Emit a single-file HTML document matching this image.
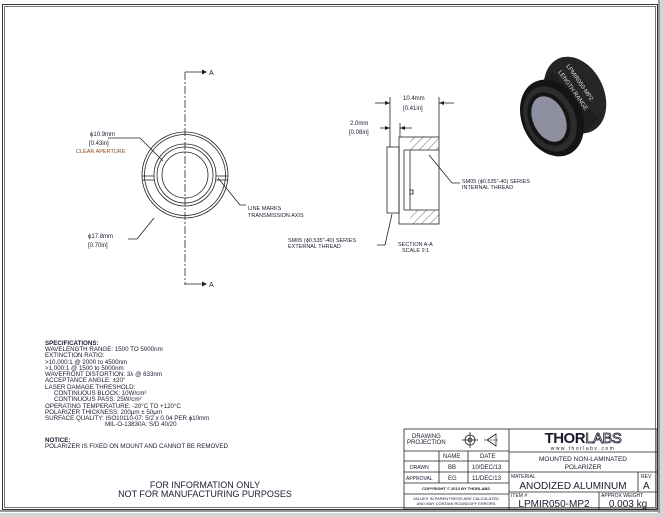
<!DOCTYPE html>
<html><head><meta charset="utf-8"><style>
html,body{margin:0;padding:0;background:#fff;}
svg{display:block;}
text{font-family:"Liberation Sans",sans-serif;fill:#1a1a2e;}
</style></head><body>
<svg width="664" height="517" viewBox="0 0 664 517" xmlns="http://www.w3.org/2000/svg">
<rect x="0" y="0" width="664" height="517" fill="#d4d4d4"/>
<rect x="0" y="0" width="660" height="513" fill="#fff"/>
<rect x="2.5" y="4.5" width="655" height="505" fill="none" stroke="#333" stroke-width="1"/>
<rect x="4.5" y="6.5" width="651" height="501" fill="none" stroke="#555" stroke-width="0.8"/>
<line x1="0" y1="511" x2="660" y2="511" stroke="#999" stroke-width="2"/>
<line x1="659" y1="0" x2="659" y2="513" stroke="#999" stroke-width="2"/>

<!-- front view -->
<g stroke="#222" fill="none" stroke-width="0.8">
<line x1="185" y1="72" x2="185" y2="285" stroke-dasharray="8,2,2,2"/>
<polyline points="185,72 203,72"/>
<polyline points="185,284 203,284"/>
<circle cx="185" cy="175" r="43"/>
<circle cx="185" cy="175" r="40.5"/>
<circle cx="185" cy="175" r="31"/>
<circle cx="185" cy="175" r="28"/>
<circle cx="185" cy="175" r="23"/>
<line x1="142" y1="176" x2="154" y2="176"/><line x1="142" y1="180" x2="154" y2="180"/>
<line x1="216" y1="176" x2="228" y2="176"/><line x1="216" y1="180" x2="228" y2="180"/>
<polyline points="108,138 140,138 163,161"/>
<polyline points="218,178 240,205 246,205"/>
<polyline points="128,239 137,239 154,218"/>
</g>
<polygon points="202,69.5 202,74.5 207,72" fill="#222"/>
<polygon points="202,281.5 202,286.5 207,284" fill="#222"/>
<text x="209" y="75" font-size="7">A</text>
<text x="209" y="287" font-size="7">A</text>
<text x="90" y="136" font-size="6">ϕ10.9mm</text>
<text x="89" y="145" font-size="6">[0.43in]</text>
<text x="76" y="153" font-size="5.5" style="fill:#8a4a1a">CLEAR APERTURE</text>
<text x="248" y="210" font-size="5.5">LINE MARKS</text>
<text x="248" y="217" font-size="5.5">TRANSMISSION AXIS</text>
<text x="88" y="238" font-size="6">ϕ17.8mm</text>
<text x="88" y="247" font-size="6">[0.70in]</text>

<!-- section view -->
<defs><pattern id="h" width="6" height="6" patternUnits="userSpaceOnUse" patternTransform="rotate(45)"><line x1="0" y1="0" x2="0" y2="6" stroke="#222" stroke-width="0.7"/></pattern></defs>
<rect x="410" y="137" width="29" height="13" fill="url(#h)"/>
<rect x="410" y="210" width="29" height="14" fill="url(#h)"/>
<g stroke="#222" fill="none" stroke-width="0.8">
<rect x="399" y="137" width="40" height="87"/>
<rect x="387" y="147" width="12" height="66"/>
<line x1="404" y1="150" x2="439" y2="150"/>
<line x1="404" y1="210" x2="439" y2="210"/>
<line x1="404" y1="150" x2="404" y2="210"/>
<line x1="410" y1="150" x2="410" y2="210"/>
<rect x="410" y="190" width="3" height="4"/>
<line x1="390" y1="97" x2="390" y2="147"/>
<line x1="439" y1="97" x2="439" y2="137"/>
<line x1="375" y1="103" x2="390" y2="103"/><line x1="439" y1="103" x2="454" y2="103"/>
<line x1="400" y1="123" x2="400" y2="137"/>
<line x1="380" y1="128" x2="390" y2="128"/><line x1="400" y1="128" x2="412" y2="128"/>
<polyline points="429,155 452,183 460,183"/>
<polyline points="377,245 385,245 392,214"/>
</g>
<polygon points="390,103 385,101 385,105" fill="#222"/>
<polygon points="439,103 444,101 444,105" fill="#222"/>
<polygon points="390,128 385,126 385,130" fill="#222"/>
<polygon points="400,128 405,126 405,130" fill="#222"/>
<text x="403" y="100" font-size="6">10.4mm</text>
<text x="403" y="110" font-size="6">[0.41in]</text>
<text x="350" y="125" font-size="6">2.0mm</text>
<text x="349" y="134" font-size="6">[0.08in]</text>
<text x="462" y="183" font-size="5.5">SM05 (ϕ0.535"-40) SERIES</text>
<text x="462" y="189" font-size="5.5">INTERNAL THREAD</text>
<text x="288" y="242" font-size="5.5">SM05 (ϕ0.535"-40) SERIES</text>
<text x="288" y="248" font-size="5.5">EXTERNAL THREAD</text>
<text x="398" y="246" font-size="5.5">SECTION A-A</text>
<text x="402" y="252" font-size="5.5">SCALE 2:1</text>

<!-- photo -->
<g>
<ellipse cx="575" cy="95" rx="29" ry="40" fill="#252525" transform="rotate(-25 575 95)"/>
<line x1="575" y1="95" x2="552" y2="118" stroke="#1e1e1e" stroke-width="66"/>
<ellipse cx="552" cy="118" rx="30" ry="40" fill="#141414" transform="rotate(-25 552 118)"/>
<ellipse cx="550" cy="119" rx="25" ry="34" fill="#2c2c2c" transform="rotate(-25 550 119)"/>
<ellipse cx="549" cy="119" rx="20" ry="28" fill="#151515" transform="rotate(-25 549 119)"/>
<ellipse cx="549" cy="119" rx="16" ry="24" fill="#8e90a2" transform="rotate(-25 549 119)"/>
<text x="566" y="66" font-size="6" style="fill:#ddd" transform="rotate(55 566 66)">LPMIR050-MP2</text>
<text x="558" y="72" font-size="6" style="fill:#ddd" transform="rotate(55 558 72)">LENGTH RANGE</text>
</g>

<!-- specs -->
<g font-size="6.2">
<text x="45" y="345" font-weight="bold">SPECIFICATIONS:</text>
<text x="45" y="351">WAVELENGTH RANGE: 1500 TO 5000nm</text>
<text x="45" y="357">EXTINCTION RATIO:</text>
<text x="45" y="364">&gt;10,000:1 @ 2000 to 4500nm</text>
<text x="45" y="370">&gt;1,000:1 @ 1500 to 5000nm</text>
<text x="45" y="376">WAVEFRONT DISTORTION: 3λ @ 633nm</text>
<text x="45" y="382">ACCEPTANCE ANGLE: ±20°</text>
<text x="45" y="389">LASER DAMAGE THRESHOLD:</text>
<text x="54" y="395">CONTINUOUS BLOCK: 10W/cm²</text>
<text x="54" y="401">CONTINUOUS PASS: 25W/cm²</text>
<text x="45" y="408">OPERATING TEMPERATURE: -20°C TO +120°C</text>
<text x="45" y="414">POLARIZER THICKNESS: 200μm ± 50μm</text>
<text x="45" y="420">SURFACE QUALITY: ISO10110-07: 5/2 x 0.04 PER ϕ10mm</text>
<text x="105" y="426">MIL-O-13830A: S/D 40/20</text>
<text x="45" y="442" font-weight="bold">NOTICE:</text>
<text x="45" y="448">POLARIZER IS FIXED ON MOUNT AND CANNOT BE REMOVED</text>
</g>
<text x="205" y="488" font-size="9" text-anchor="middle">FOR INFORMATION ONLY</text>
<text x="205" y="497" font-size="9" text-anchor="middle">NOT FOR MANUFACTURING PURPOSES</text>

<!-- title block -->
<g stroke="#222" fill="none" stroke-width="0.8">
<rect x="404" y="429" width="253" height="80"/>
<line x1="509" y1="429" x2="509" y2="509"/>
<line x1="404" y1="451" x2="509" y2="451"/>
<line x1="404" y1="461" x2="509" y2="461"/>
<line x1="404" y1="472" x2="509" y2="472"/>
<line x1="404" y1="483" x2="509" y2="483"/>
<line x1="404" y1="494" x2="509" y2="494"/>
<line x1="439" y1="451" x2="439" y2="483"/>
<line x1="468" y1="451" x2="468" y2="483"/>
<line x1="509" y1="452" x2="657" y2="452"/>
<line x1="509" y1="472" x2="657" y2="472"/>
<line x1="509" y1="492" x2="657" y2="492"/>
<line x1="638" y1="472" x2="638" y2="492"/>
<line x1="599" y1="492" x2="599" y2="509"/>
<circle cx="470" cy="440" r="5"/><circle cx="470" cy="440" r="2"/>
<line x1="462" y1="440" x2="478" y2="440"/><line x1="470" y1="432" x2="470" y2="448"/>
<polygon points="487,440 496,434 496,446"/>
<line x1="484" y1="440" x2="498" y2="440" stroke-dasharray="2,1"/>
</g>
<text x="412" y="438" font-size="6">DRAWING</text>
<text x="407" y="444" font-size="6">PROJECTION</text>
<text x="443" y="458" font-size="6">NAME</text>
<text x="480" y="458" font-size="6">DATE</text>
<text x="410" y="469" font-size="5">DRAWN</text>
<text x="448" y="469" font-size="6">BB</text>
<text x="472" y="469" font-size="6">10/DEC/13</text>
<text x="406" y="480" font-size="5">APPROVAL</text>
<text x="448" y="480" font-size="6">EG</text>
<text x="472" y="480" font-size="6">11/DEC/13</text>
<text x="456" y="490" font-size="4" text-anchor="middle" font-weight="bold">COPYRIGHT © 2013 BY THORLABS</text>
<text x="456" y="500" font-size="4" text-anchor="middle">VALUES IN PARENTHESIS ARE CALCULATED</text>
<text x="456" y="505" font-size="4" text-anchor="middle">AND MAY CONTAIN ROUNDOFF ERRORS</text>
<text x="583" y="443" font-size="15" text-anchor="middle" font-weight="bold" letter-spacing="-0.5">THOR<tspan font-weight="normal" style="fill:#fff;stroke:#1a1a2e;stroke-width:0.8">LABS</tspan></text>
<text x="583" y="450" font-size="5" text-anchor="middle" letter-spacing="1.5">www.thorlabs.com</text>
<text x="583" y="461" font-size="6.5" text-anchor="middle">MOUNTED NON-LAMINATED</text>
<text x="583" y="469" font-size="6.5" text-anchor="middle">POLARIZER</text>
<text x="511" y="478" font-size="5">MATERIAL</text>
<text x="573" y="489" font-size="10" text-anchor="middle">ANODIZED ALUMINUM</text>
<text x="641" y="478" font-size="5">REV</text>
<text x="643" y="489" font-size="10">A</text>
<text x="511" y="497" font-size="5">ITEM #</text>
<text x="554" y="507" font-size="10" text-anchor="middle">LPMIR050-MP2</text>
<text x="601" y="497" font-size="5">APPROX WEIGHT</text>
<text x="628" y="507" font-size="10" text-anchor="middle">0.003 kg</text>
</svg>
</body></html>
